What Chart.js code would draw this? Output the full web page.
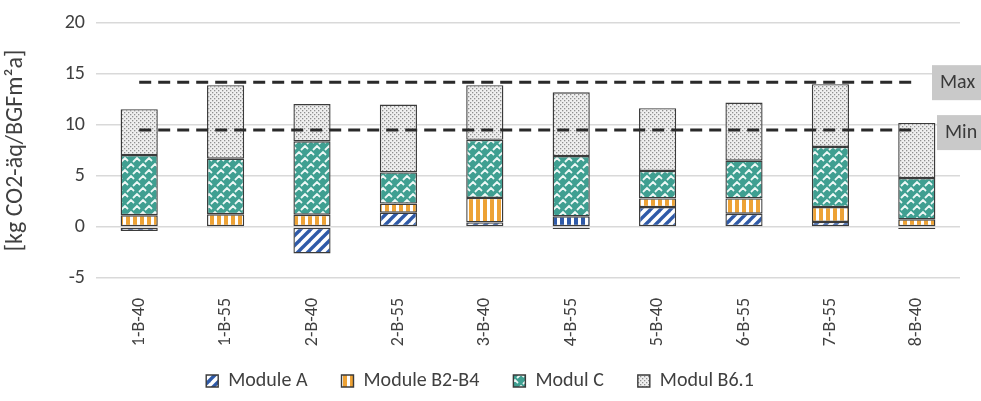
<!DOCTYPE html>
<html>
<head>
<meta charset="utf-8">
<script src="https://cdn.jsdelivr.net/npm/chart.js@4/dist/chart.umd.min.js"></script>
<style>
  html, body { margin: 0; padding: 0; background: #fff; }
  #wrap { width: 981px; height: 401px; }
</style>
</head>
<body>
<div id="wrap"><canvas id="c" width="981" height="401"></canvas></div>
<script>
// Building variants and life-cycle module contributions [kg CO2-äq/BGFm²a]
const categories = ['1-B-40', '1-B-55', '2-B-40', '2-B-55', '3-B-40', '4-B-55', '5-B-40', '6-B-55', '7-B-55', '8-B-40'];
const moduleA    = [-0.4, -0.1, -2.6, 1.4, 0.45, -0.2, 1.95, 1.3, 0.5, -0.2];
const moduleB2B4 = [1.15, 1.25, 1.2, 0.9, 2.4, 1.05, 0.85, 1.5, 1.45, 0.75];
const modulC     = [5.9, 5.45, 7.2, 3.05, 5.7, 5.9, 2.7, 3.7, 5.9, 4.05];
const modulB61   = [4.5, 7.2, 3.65, 6.65, 5.35, 6.25, 6.15, 5.7, 6.15, 5.4];
const seriesNames = ['Module A', 'Module B2-B4', 'Modul C', 'Modul B6.1'];
const benchmarkMax = 14.2;
const benchmarkMin = 9.5;
const yTicks = [-5, 0, 5, 10, 15, 20];

const FONT = 'Carlito, Lato, "Noto Sans", sans-serif';

// ---- fill patterns ----
function tile(w, h, draw) {
  const cv = document.createElement('canvas');
  cv.width = w; cv.height = h;
  const g = cv.getContext('2d');
  draw(g, w, h);
  return g.createPattern(cv, 'repeat');
}

const patDiagBlue = tile(10, 10, (g, w, h) => {
  g.fillStyle = '#ffffff'; g.fillRect(0, 0, w, h);
  g.strokeStyle = '#2f5aa8'; g.lineWidth = 3.4; g.lineCap = 'square';
  for (const o of [-10, 0, 10]) {
    g.beginPath(); g.moveTo(o, h); g.lineTo(o + w, 0); g.stroke();
  }
});
const patVertOrange = tile(7, 7, (g, w, h) => {
  g.fillStyle = '#ffffff'; g.fillRect(0, 0, w, h);
  g.fillStyle = '#eda235'; g.fillRect(0, 0, 4, h);
});
const patVertBlue = tile(7, 7, (g, w, h) => {
  g.fillStyle = '#ffffff'; g.fillRect(0, 0, w, h);
  g.fillStyle = '#2f5aa8'; g.fillRect(0, 0, 4, h);
});
// teal basket weave: white L-shaped strokes on teal
const patWeaveTeal = tile(12, 12, (g, w, h) => {
  g.fillStyle = '#3f9f91'; g.fillRect(0, 0, w, h);
  g.strokeStyle = '#eef8f6'; g.lineWidth = 1.8; g.lineCap = 'butt';
  g.beginPath();
  g.moveTo(1, 6); g.lineTo(5, 2); g.lineTo(8, 5);
  g.moveTo(7, 12); g.lineTo(11, 8); g.lineTo(14, 11);
  g.moveTo(-5, 12); g.lineTo(-1, 8); g.lineTo(2, 11);
  g.moveTo(7, 0); g.lineTo(11, -4);
  g.stroke();
});
const patDotsGray = tile(4, 4, (g, w, h) => {
  g.fillStyle = '#efefef'; g.fillRect(0, 0, w, h);
  g.fillStyle = '#8f8f8f';
  g.fillRect(0, 0, 1.3, 1.3);
  g.fillRect(2, 2, 1.3, 1.3);
});

const barCommon = {
  type: 'bar',
  borderColor: '#3b3b3b',
  borderWidth: 1.4,
  borderSkipped: false,
  stack: 'modules',
  order: 2,
  categoryPercentage: 0.43,
  barPercentage: 1.0
};

function refLine(label, value) {
  return {
    type: 'line',
    label: label,
    data: categories.map(() => value),
    borderColor: '#2a2a2a',
    borderWidth: 3,
    borderDash: [12, 7],
    pointRadius: 0,
    fill: false,
    stack: label,
    order: 0
  };
}

// Max / Min tags at the right end of the benchmark lines
const refTags = {
  id: 'refTags',
  afterDraw(chart) {
    const { ctx, scales: { y }, chartArea } = chart;
    const tags = [
      { text: 'Max', v: benchmarkMax, x0: chartArea.right - 28, dy: 0 },
      { text: 'Min', v: benchmarkMin, x0: chartArea.right - 23, dy: 2 }
    ];
    ctx.save();
    for (const t of tags) {
      const yc = y.getPixelForValue(t.v) + t.dy;
      ctx.fillStyle = '#c9c9c9';
      ctx.fillRect(t.x0, yc - 17, chart.width - t.x0, 35);
      ctx.fillStyle = '#3a3a3a';
      ctx.font = '20px ' + FONT;
      ctx.textBaseline = 'middle';
      ctx.textAlign = 'left';
      ctx.fillText(t.text, t.x0 + 8, yc + 1);
    }
    ctx.restore();
  }
};

// let the rotated category labels run into the free space above the legend
const unclipCategoryLabels = {
  id: 'unclipCategoryLabels',
  beforeDraw(chart) {
    const x = chart.scales.x;
    if (x) x._computeLabelArea = () => undefined;
  }
};

new Chart(document.getElementById('c'), {
  data: {
    labels: categories,
    datasets: [
      Object.assign({}, barCommon, { label: seriesNames[0], data: moduleA, backgroundColor: patDiagBlue }),
      Object.assign({}, barCommon, {
        label: seriesNames[1], data: moduleB2B4,
        backgroundColor: (c) => (c.dataIndex === 5 ? patVertBlue : patVertOrange)
      }),
      Object.assign({}, barCommon, { label: seriesNames[2], data: modulC, backgroundColor: patWeaveTeal }),
      Object.assign({}, barCommon, { label: seriesNames[3], data: modulB61, backgroundColor: patDotsGray }),
      refLine('Max', benchmarkMax),
      refLine('Min', benchmarkMin)
    ]
  },
  options: {
    responsive: false,
    animation: false,
    devicePixelRatio: 1,
    layout: { padding: { left: 0, right: 21, top: 0, bottom: 0 } },
    plugins: {
      tooltip: { enabled: false },
      legend: {
        position: 'bottom',
        labels: {
          filter: (item) => seriesNames.includes(item.text),
          boxWidth: 12,
          boxHeight: 12,
          padding: 34,
          color: '#404040',
          font: { family: FONT, size: 20 }
        }
      }
    },
    scales: {
      x: {
        stacked: true,
        grid: { display: false },
        border: { display: false },
        ticks: {
          color: '#404040',
          font: { family: FONT, size: 18 },
          minRotation: 90,
          maxRotation: 90,
          padding: 12
        },
        afterFit: (s) => { s.height = 59; }
      },
      y: {
        stacked: true,
        min: -5,
        max: 20,
        afterBuildTicks: (s) => { s.ticks = yTicks.map(v => ({ value: v })); },
        grid: { color: '#d9d9d9', lineWidth: 1.6, drawTicks: false },
        border: { display: false },
        ticks: {
          color: '#404040',
          font: { family: FONT, size: 20 },
          padding: 11
        },
        title: {
          display: true,
          text: '[kg CO2-äq/BGFm²a]',
          color: '#404040',
          font: { family: FONT, size: 24 },
          padding: { top: 2, bottom: 0 }
        },
        afterFit: (s) => { s.width = 96; }
      }
    }
  },
  plugins: [refTags, unclipCategoryLabels]
});
</script>
</body>
</html>
